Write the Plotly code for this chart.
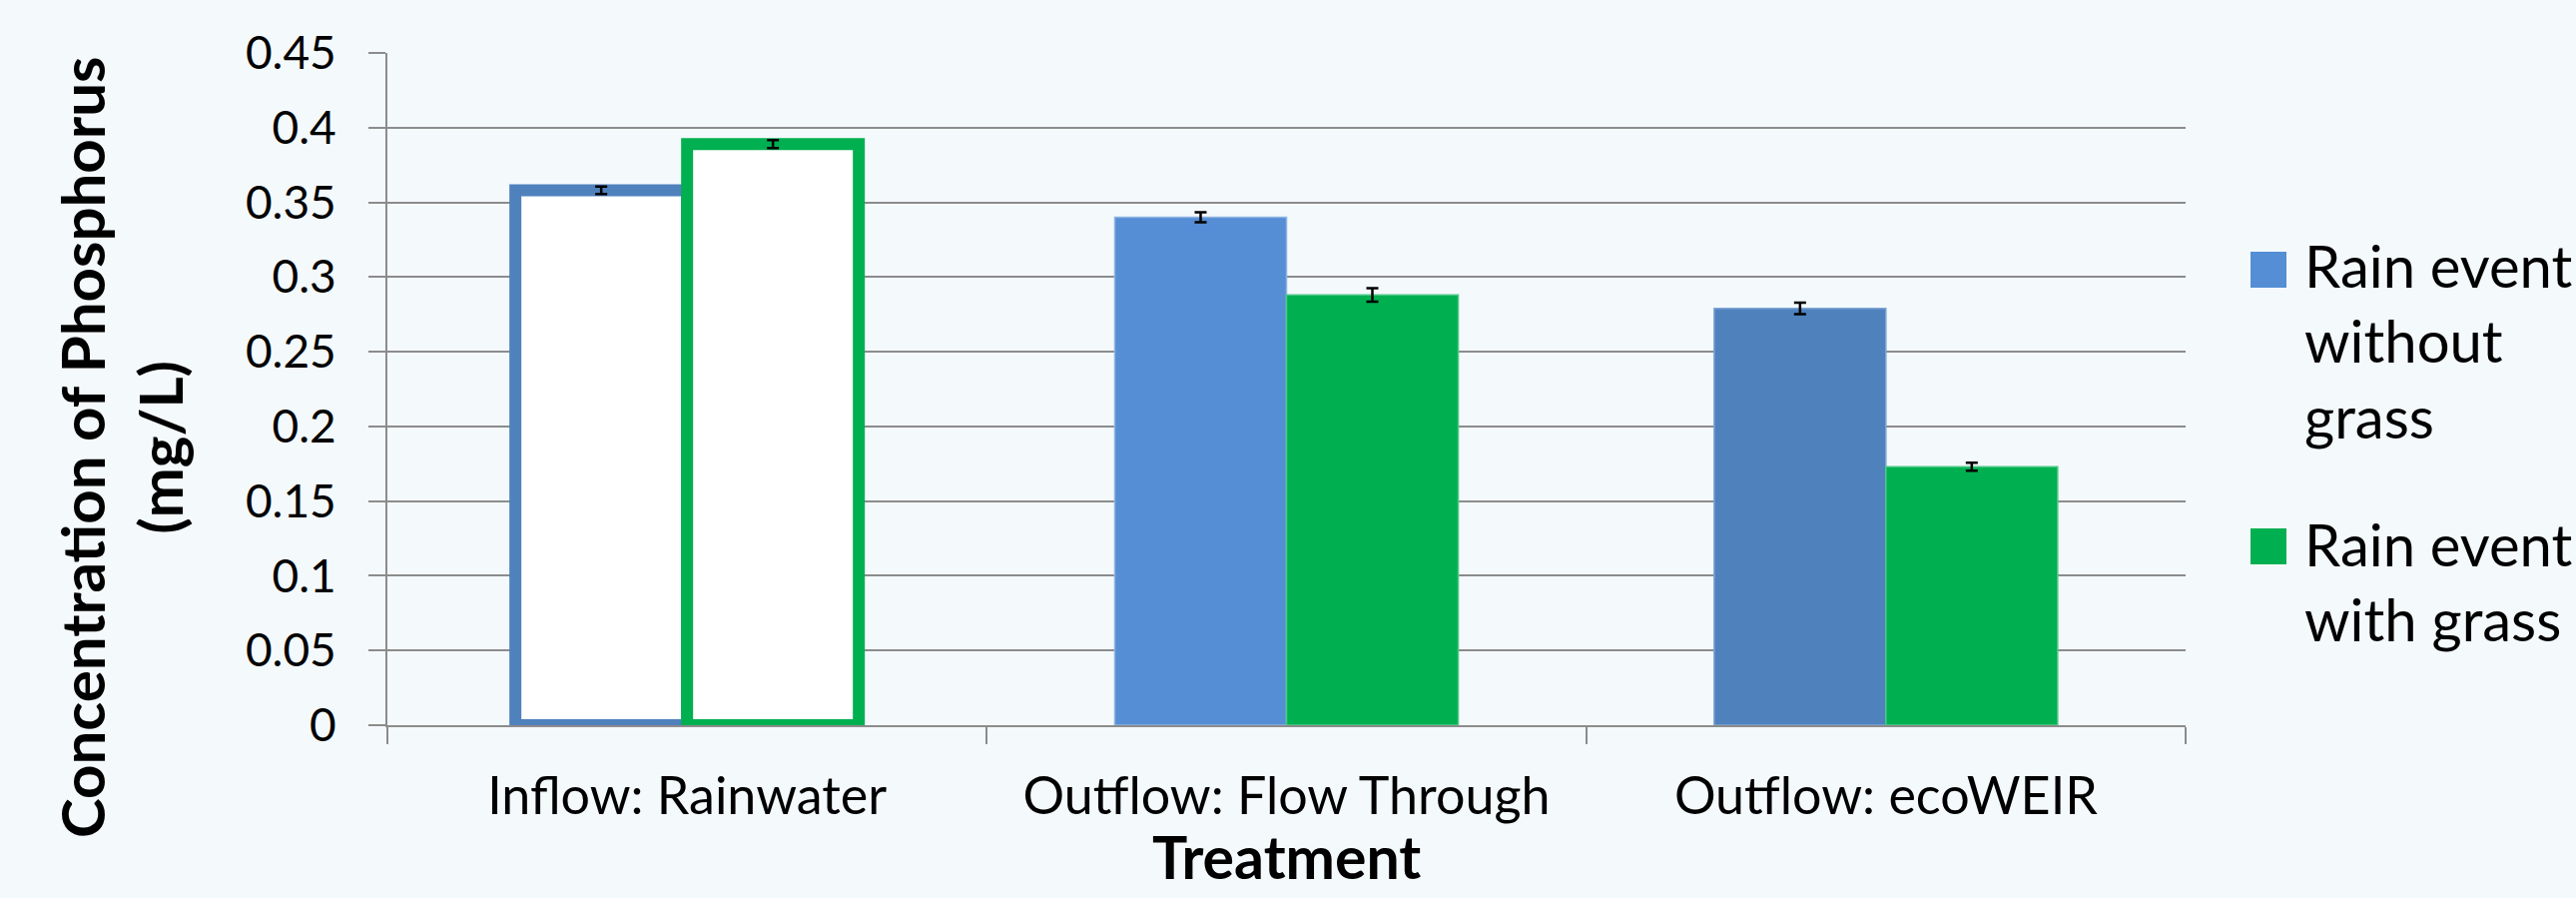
import plotly.graph_objects as go

categories = ["Inflow: Rainwater", "Outflow: Flow Through", "Outflow: ecoWEIR"]
without_grass = [0.358, 0.340, 0.279]
without_grass_err = [0.0025, 0.0033, 0.0038]
with_grass = [0.389, 0.288, 0.173]
with_grass_err = [0.0027, 0.0045, 0.0027]
series_names = ["Rain event<br>without<br>grass", "Rain event<br>with grass"]
y_ticks = [0, 0.05, 0.1, 0.15, 0.2, 0.25, 0.3, 0.35, 0.4, 0.45]
y_ticktext = ["0", "0.05", "0.1", "0.15", "0.2", "0.25", "0.3", "0.35", "0.4", "0.45"]

BG = "#F4F9FC"
BLUE_L = "#558ED5"
BLUE_D = "#4F81BD"
GREEN = "#00B050"
FONT = "Lato"

W, H = 2580, 899
L, R, T, B = 388, 391, 53, 173

fig = go.Figure()
fig.add_trace(go.Bar(
    x=categories, y=without_grass, name="Rain event without grass",
    marker=dict(color=["white", BLUE_L, BLUE_D],
                line=dict(color=[BLUE_D, "#8DB4E2", "#7FA6D6"], width=[12, 1.5, 1.5])),
    error_y=dict(type="data", array=without_grass_err, color="black", thickness=2.5, width=6),
    showlegend=False,
))
fig.add_trace(go.Bar(
    x=categories, y=with_grass, name="Rain event with grass",
    marker=dict(color=["white", GREEN, GREEN],
                line=dict(color=[GREEN, "#4CC886", "#4CC886"], width=[12, 1.5, 1.5])),
    error_y=dict(type="data", array=with_grass_err, color="black", thickness=2.5, width=6),
    showlegend=False,
))

pw = W - L - R
ph = H - T - B

def px_x(p):
    return (p - L) / pw

def px_y(p):
    return (H - B - p) / ph

shapes = [
    dict(type="rect", xref="paper", yref="paper", x0=px_x(2254), x1=px_x(2290),
         y0=px_y(288), y1=px_y(252), fillcolor=BLUE_L, line=dict(width=0)),
    dict(type="rect", xref="paper", yref="paper", x0=px_x(2254), x1=px_x(2290),
         y0=px_y(565), y1=px_y(529), fillcolor=GREEN, line=dict(width=0)),
]
annotations = [
    dict(xref="paper", yref="paper", x=px_x(2306), y=px_y(341), xanchor="left", yanchor="middle",
         text=series_names[0], showarrow=False, align="left",
         font=dict(family=FONT, size=58, color="black")),
    dict(xref="paper", yref="paper", x=px_x(2306), y=px_y(582), xanchor="left", yanchor="middle",
         text=series_names[1], showarrow=False, align="left",
         font=dict(family=FONT, size=58, color="black")),
    dict(xref="paper", yref="paper", x=px_x(121), y=px_y(448), xanchor="center", yanchor="middle",
         text="<b>Concentration of Phosphorus<br>(mg/L)</b>", textangle=-90, showarrow=False,
         font=dict(family=FONT, size=60, color="black")),
    dict(xref="paper", yref="paper", x=0.5, y=px_y(857), xanchor="center", yanchor="middle",
         text="<b>Treatment</b>", showarrow=False,
         font=dict(family=FONT, size=59, color="black")),
]

fig.update_layout(
    width=W, height=H,
    margin=dict(l=L, r=R, t=T, b=B, autoexpand=False),
    paper_bgcolor=BG, plot_bgcolor=BG,
    barmode="group", bargap=0.427, bargroupgap=0,
    font=dict(family=FONT, color="black"),
    shapes=shapes, annotations=annotations,
    xaxis=dict(
        type="category", tickson="boundaries", ticks="outside", ticklen=17, tickwidth=2,
        tickcolor="#8C8C8C", showline=True, linecolor="#8C8C8C", linewidth=2,
        showgrid=False, tickfont=dict(size=52, family=FONT), ticklabelstandoff=25,
        automargin=False,
    ),
    yaxis=dict(
        range=[0, 0.45], tickvals=y_ticks, ticktext=y_ticktext, ticks="outside", ticklen=17,
        tickwidth=2, tickcolor="#8C8C8C", showline=True, linecolor="#8C8C8C", linewidth=2,
        showgrid=True, gridcolor="#8C8C8C", gridwidth=2, zeroline=False,
        tickfont=dict(size=46, family=FONT), ticklabelstandoff=23,
        automargin=False,
    ),
)

fig.write_html(
    "out.html",
    config={"displayModeBar": False},
    post_script="document.body.style.margin='0';document.body.style.background='" + BG + "';",
)
